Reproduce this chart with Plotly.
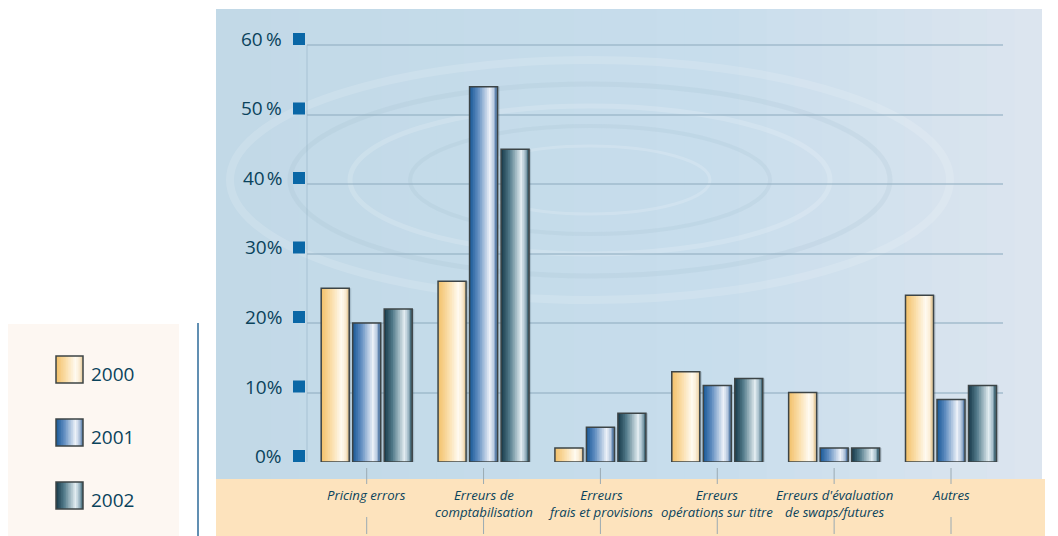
import plotly.graph_objects as go

# ---------------- data ----------------
categories = ["Pricing errors", "Erreurs de<br>comptabilisation", "Erreurs<br>frais et provisions",
              "Erreurs<br>opérations sur titre", "Erreurs d'évaluation<br>de swaps/futures", "Autres"]
years = ["2000", "2001", "2002"]
v2000 = [25, 26, 2, 13, 10, 24]
v2001 = [20, 54, 5, 11, 2, 9]
v2002 = [22, 45, 7, 12, 2, 11]
y_ticks = [0, 10, 20, 30, 40, 50, 60]
y_tick_labels = ["0%", "10%", "20%", "30%", "40\u200a%", "50\u2009%", "60\u2009%"]

series = [v2000, v2001, v2002]

# ---------------- styling ----------------
W, H = 1058, 536
TXT = "#0a435c"
FONT = "Open Sans"
stops = [
    [(0, (242, 192, 104)), (0.35, (250, 220, 166)), (0.72, (255, 250, 240)), (0.86, (251, 238, 215)), (1, (228, 200, 150))],
    [(0, (24, 88, 150)), (0.3, (95, 140, 192)), (0.72, (236, 241, 248)), (0.86, (185, 202, 224)), (1, (70, 112, 160))],
    [(0, (22, 56, 72)), (0.3, (82, 122, 138)), (0.72, (226, 236, 241)), (0.86, (165, 190, 202)), (1, (48, 88, 104))],
]


def grad(st, t):
    for (t0, c0), (t1, c1) in zip(st[:-1], st[1:]):
        if t0 <= t <= t1:
            f = (t - t0) / (t1 - t0)
            c = [round(a + (b - a) * f) for a, b in zip(c0, c1)]
            return f"rgb({c[0]},{c[1]},{c[2]})"
    c = st[-1][1]
    return f"rgb({c[0]},{c[1]},{c[2]})"


def px(x):
    return x / W


def py(y):
    return 1 - y / H


UNIT = 116.86          # px per category
PX_PER_PCT = 6.95
Y0 = 462               # pixel of 0 %
x_left, x_right = 307, 1003
first_center = 366.7
xr = [-(first_center - x_left) / UNIT, 5 + (x_right - 951) / UNIT]
ytop = 63.0

bar_off_px = [-45.5, -14.0, 17.5]
bar_w_px = 28.0
N = 16

xs = list(range(len(categories)))
fig = go.Figure()

# soft shadow behind bars
for si, vals in enumerate(series):
    off = (bar_off_px[si] + 2) / UNIT
    fig.add_trace(go.Bar(x=xs, y=vals, offset=off, width=bar_w_px / UNIT,
                         marker=dict(color="rgba(40,60,80,0.18)", line=dict(width=0)),
                         showlegend=False, hoverinfo="skip"))

for si, vals in enumerate(series):
    off = bar_off_px[si] / UNIT
    wb = bar_w_px / UNIT
    sw = wb / N
    for k in range(N):
        t = (k + 0.5) / N
        w_k = min(sw * 1.6, wb - k * sw)
        fig.add_trace(go.Bar(x=xs, y=vals, offset=off + k * sw, width=w_k,
                             marker=dict(color=grad(stops[si], t), line=dict(width=0)),
                             showlegend=False, hoverinfo="skip"))
    fig.add_trace(go.Bar(x=xs, y=vals, offset=off, width=wb, name=years[si],
                         marker=dict(color="rgba(0,0,0,0)", line=dict(color="#3c4446", width=1.5)),
                         showlegend=False))

shapes = []
# blue background panel with horizontal gradient
bx0, bx1, by0, by1 = 216, 1042, 9, 479
NB = 30
for k in range(NB):
    t = k / (NB - 1)
    c0, c1, c2 = (194, 217, 231), (199, 221, 236), (220, 229, 239)
    if t < 0.6:
        f = t / 0.6
        c = [round(a + (b - a) * f) for a, b in zip(c0, c1)]
    else:
        f = (t - 0.6) / 0.4
        c = [round(a + (b - a) * f) for a, b in zip(c1, c2)]
    xa = bx0 + (bx1 - bx0) * k / NB
    xb = bx0 + (bx1 - bx0) * (k + 1) / NB + 1
    shapes.append(dict(type="rect", xref="paper", yref="paper", x0=px(xa), x1=px(min(xb, bx1)),
                       y0=py(by1), y1=py(by0), line=dict(width=0),
                       fillcolor=f"rgb({c[0]},{c[1]},{c[2]})", layer="below"))
# faint ripples (kept inside the panel)
for (rx, ry, col, lw) in [(360, 120, "rgba(255,255,255,0.14)", 8), (300, 96, "rgba(140,170,190,0.12)", 5),
                          (240, 74, "rgba(255,255,255,0.16)", 5), (180, 54, "rgba(140,170,190,0.12)", 4),
                          (120, 34, "rgba(255,255,255,0.16)", 3)]:
    cx, cy = 590, 180
    shapes.append(dict(type="circle", xref="paper", yref="paper", x0=px(cx - rx), x1=px(cx + rx),
                       y0=py(cy + ry), y1=py(cy - ry), line=dict(color=col, width=lw), layer="below"))
# beige band
shapes.append(dict(type="rect", xref="paper", yref="paper", x0=px(216), x1=px(1045), y0=py(536), y1=py(479),
                   fillcolor="#fde3bd", line=dict(width=0), layer="below"))
# legend box + separator
shapes.append(dict(type="rect", xref="paper", yref="paper", x0=px(8), x1=px(179), y0=py(536), y1=py(324),
                   fillcolor="#fdf7f2", line=dict(width=0), layer="below"))
shapes.append(dict(type="line", xref="paper", yref="paper", x0=px(198), x1=px(198), y0=py(536), y1=py(323),
                   line=dict(color="#2c6a98", width=1.5)))
# y axis line (0 -> 60)
shapes.append(dict(type="line", xref="paper", yref="y", x0=px(x_left), x1=px(x_left), y0=0, y1=60,
                   line=dict(color="rgba(140,172,192,0.5)", width=1), layer="below"))
# category ticks
for i in xs:
    for (ya, yb) in [(468, 484), (517, 534)]:
        shapes.append(dict(type="line", xref="x", yref="paper", x0=i, x1=i, y0=py(yb), y1=py(ya),
                           line=dict(color="#9aaab3", width=1)))
# y-axis square markers
for v in y_ticks:
    shapes.append(dict(type="rect", xref="paper", yref="y", x0=px(293), x1=px(305),
                       ysizemode="pixel", yanchor=v, y0=0, y1=12,
                       fillcolor="#0a67a6", line=dict(width=0)))
# legend squares
leg_y = [356, 419, 482]
for si in range(3):
    lx0, lx1 = 56, 83
    ly0, ly1 = leg_y[si], leg_y[si] + 27
    for k in range(N):
        t = (k + 0.5) / N
        xa = lx0 + (lx1 - lx0) * k / N
        xb = lx0 + (lx1 - lx0) * (k + 1.5) / N
        shapes.append(dict(type="rect", xref="paper", yref="paper", x0=px(xa), x1=px(min(xb, lx1)),
                           y0=py(ly1), y1=py(ly0), fillcolor=grad(stops[si], t), line=dict(width=0)))
    shapes.append(dict(type="rect", xref="paper", yref="paper", x0=px(lx0), x1=px(lx1),
                       y0=py(ly1), y1=py(ly0), line=dict(color="#3c4446", width=1.5)))

annotations = []
for v, lab in zip(y_ticks, y_tick_labels):
    annotations.append(dict(x=px(284), xref="paper", y=v, yref="y", text=lab, showarrow=False,
                            xanchor="right", yanchor="middle", yshift=6,
                            font=dict(family=FONT, size=19, color=TXT)))
for i, c in enumerate(categories):
    annotations.append(dict(x=i, xref="x", y=py(484), yref="paper", text=c, showarrow=False,
                            xanchor="center", yanchor="top",
                            font=dict(family=FONT, size=13.2, color=TXT, style="italic")))
for si, yr in enumerate(years):
    annotations.append(dict(x=px(89), xref="paper", y=py(leg_y[si] + 18), yref="paper", text=yr,
                            showarrow=False, xanchor="left", yanchor="middle",
                            font=dict(family=FONT, size=19, color=TXT)))

fig.update_layout(
    width=W, height=H, margin=dict(l=0, r=0, t=0, b=0),
    paper_bgcolor="white", plot_bgcolor="rgba(0,0,0,0)",
    barmode="overlay", showlegend=False,
    xaxis=dict(domain=[px(x_left), px(x_right)], range=xr, showgrid=False, zeroline=False,
               showticklabels=False, showline=False, fixedrange=True),
    yaxis=dict(domain=[py(Y0), py(Y0 - ytop * PX_PER_PCT)], range=[0, ytop], tickvals=y_ticks[1:],
               showgrid=True, gridcolor="rgba(150,178,196,0.6)", gridwidth=1.5,
               showticklabels=False, zeroline=False, showline=False, fixedrange=True),
    shapes=shapes, annotations=annotations,
)

fig.write_html("out.html")
